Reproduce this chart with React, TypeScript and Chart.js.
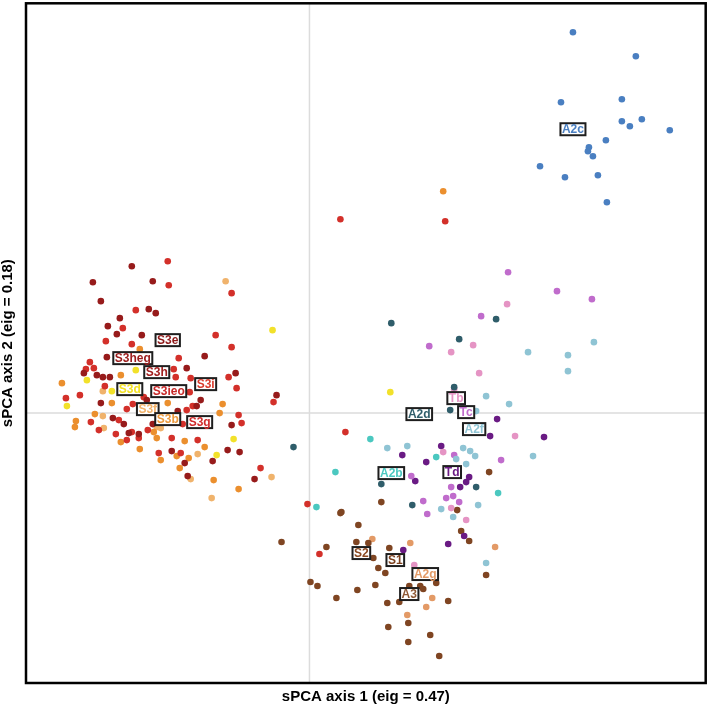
import React, { useEffect, useRef } from "react";
import { Chart, registerables } from "chart.js";

Chart.register(...registerables);

type Pt = [number, number];

// sPCA scores (axis 1, axis 2) per population group
const s3DarkPts: Pt[] = [
  [-1.78, 1.47], [-2.17, 1.31], [-1.57, 1.32], [-2.09, 1.12], [-1.61, 1.04], [-1.54, 1.0],
  [-1.9, 0.95], [-2.02, 0.87], [-1.93, 0.79], [-1.68, 0.78], [-2.03, 0.56], [-1.05, 0.57],
  [-2.26, 0.4], [-1.23, 0.45], [-2.13, 0.38], [-2.07, 0.36], [-2.0, 0.36], [-0.74, 0.4],
  [-1.63, 0.13], [-1.09, 0.13], [-0.33, 0.18], [-2.09, 0.1], [-1.13, 0.07], [-1.32, 0.02],
  [-1.97, -0.05], [-1.86, -0.11], [-1.57, -0.11], [-0.78, -0.12], [-1.81, -0.2], [-1.71, -0.21],
  [-1.38, -0.38], [-0.82, -0.37], [-0.7, -0.39], [-1.25, -0.5], [-0.97, -0.48], [-1.22, -0.63],
  [-0.55, -0.66],
];
const s3RedPts: Pt[] = [
  [-1.42, 1.52], [-1.41, 1.28], [-0.78, 1.2], [-1.74, 1.03], [-1.87, 0.85], [-2.04, 0.72],
  [-1.78, 0.69], [-0.94, 0.78], [-0.78, 0.66], [-1.31, 0.55], [-2.2, 0.51], [-2.24, 0.44],
  [-2.16, 0.45], [-1.36, 0.44], [-1.34, 0.36], [-1.19, 0.35], [-0.81, 0.36], [-2.05, 0.27],
  [-0.73, 0.25], [-1.2, 0.21], [-2.44, 0.15], [-2.3, 0.18], [-1.66, 0.16], [-0.36, 0.11],
  [-1.77, 0.09], [-1.83, 0.04], [-1.17, 0.07], [-1.23, 0.03], [-1.91, -0.07], [-2.19, -0.09],
  [-2.11, -0.17], [-1.27, -0.11], [-0.71, -0.02], [-0.68, -0.1], [-1.94, -0.21], [-1.78, -0.19],
  [-1.71, -0.25], [-1.62, -0.17], [-1.83, -0.27], [-1.38, -0.25], [-1.12, -0.27], [-1.51, -0.4],
  [-1.29, -0.4], [-0.49, -0.55], [-0.02, -0.91], [0.31, 1.94], [1.36, 1.92], [0.36, -0.19],
  [0.1, -1.41],
];
const s3bPts: Pt[] = [
  [-1.7, 0.64], [-1.89, 0.38], [-2.48, 0.3], [-1.42, 0.1], [-1.98, 0.1], [-0.87, 0.09],
  [-0.9, 0.0], [-2.15, -0.01], [-2.34, -0.08], [-2.35, -0.14], [-1.56, -0.19], [-1.53, -0.25],
  [-1.89, -0.29], [-1.25, -0.28], [-1.7, -0.36], [-1.05, -0.34], [-1.33, -0.43], [-1.49, -0.47],
  [-1.21, -0.45], [-1.3, -0.55], [-0.96, -0.67], [-0.71, -0.76], [1.34, 2.22],
];
const s3fPts: Pt[] = [
  [-0.84, 1.32], [-2.07, 0.22], [-2.07, -0.03], [-2.06, -0.15], [-1.49, -0.15], [-1.53, -0.14],
  [-1.12, -0.41], [-1.19, -0.66], [-0.38, -0.64], [-0.98, -0.85],
];
const s3dPts: Pt[] = [
  [-0.37, 0.83], [-1.74, 0.43], [-2.23, 0.33], [-1.98, 0.22], [-2.43, 0.07], [-0.76, -0.26],
  [-0.93, -0.42], [0.81, 0.21],
];
const a2cPts: Pt[] = [
  [2.64, 3.81], [3.27, 3.57], [2.52, 3.11], [3.13, 3.14], [3.13, 2.92], [3.21, 2.87],
  [3.33, 2.94], [3.61, 2.83], [2.97, 2.73], [2.8, 2.66], [2.79, 2.62], [2.84, 2.57],
  [2.31, 2.47], [2.56, 2.36], [2.89, 2.38], [2.98, 2.11],
];
const a2dPts: Pt[] = [
  [1.87, 0.94], [0.82, 0.9], [1.5, 0.74], [1.45, 0.26], [1.41, 0.03], [-0.16, -0.34],
  [0.72, -0.71], [1.67, -0.74], [1.03, -0.92],
];
const a2bPts: Pt[] = [
  [0.61, -0.26], [1.27, -0.44], [0.26, -0.59], [1.89, -0.8], [0.07, -0.94],
];
const a2fPts: Pt[] = [
  [2.19, 0.61], [1.77, 0.17], [2.0, 0.09], [1.67, 0.02], [0.78, -0.35], [0.98, -0.33],
  [1.54, -0.35], [1.61, -0.38], [1.66, -0.43], [1.47, -0.46], [1.57, -0.51], [2.24, -0.43],
  [1.32, -0.96], [1.69, -0.92], [1.44, -1.04], [1.77, -1.5], [2.85, 0.71], [2.59, 0.58],
  [2.59, 0.42],
];
const tbPts: Pt[] = [
  [1.98, 1.09], [1.42, 0.61], [1.64, 0.68], [1.7, 0.4], [1.45, 0.24], [2.06, -0.23],
  [1.34, -0.39], [1.42, -0.95], [1.57, -1.07], [1.05, -1.52],
];
const tcPts: Pt[] = [
  [1.99, 1.41], [2.48, 1.22], [2.83, 1.14], [1.72, 0.97], [1.2, 0.67], [1.45, -0.42],
  [1.92, -0.47], [1.02, -0.63], [1.42, -0.74], [1.37, -0.85], [1.44, -0.83], [1.5, -0.89],
  [1.14, -0.88], [1.18, -1.01],
];
const tdPts: Pt[] = [
  [1.88, -0.06], [1.81, -0.23], [2.35, -0.24], [1.32, -0.33], [0.93, -0.42], [1.17, -0.49],
  [1.06, -0.68], [1.6, -0.64], [1.57, -0.69], [1.51, -0.74], [1.55, -1.23], [1.39, -1.31],
  [0.94, -1.37],
];
const sBrownPts: Pt[] = [
  [1.8, -0.59], [1.48, -0.97], [1.52, -1.18], [1.6, -1.28], [1.77, -1.62], [0.72, -0.89],
  [0.31, -1.0], [0.32, -0.99], [0.49, -1.12], [-0.28, -1.29], [0.17, -1.34], [0.47, -1.29],
  [0.59, -1.3], [0.8, -1.35], [0.64, -1.45], [0.69, -1.55], [0.76, -1.6], [0.01, -1.69],
  [0.08, -1.73], [0.66, -1.72], [0.48, -1.77], [1.0, -1.73], [1.11, -1.73], [1.14, -1.76],
  [1.27, -1.7], [0.27, -1.85], [0.78, -1.9], [0.9, -1.89], [1.39, -1.88], [0.99, -2.1],
  [0.79, -2.14], [1.21, -2.22], [0.99, -2.29], [1.3, -2.43],
];
const a2gPts: Pt[] = [
  [1.86, -1.34], [0.63, -1.26], [1.01, -1.3], [1.23, -1.85], [1.17, -1.94], [0.98, -2.02],
];

// group labels: name, axis 1, axis 2, colour
const labelNames = [
  "S3e", "S3heg", "S3h", "S3d", "S3ieo", "S3i", "S3f", "S3b", "S3g", "A2c",
  "A2d", "Tb", "Tc", "A2f", "A2b", "Td", "S2", "S1", "A2g", "A3",
];
const labelX = [
  -1.42, -1.77, -1.53, -1.8, -1.41, -1.04, -1.62, -1.42, -1.1, 2.64,
  1.1, 1.47, 1.57, 1.65, 0.82, 1.43, 0.52, 0.86, 1.16, 1.0,
];
const labelY = [
  0.73, 0.55, 0.41, 0.24, 0.22, 0.29, 0.04, -0.06, -0.09, 2.84,
  -0.01, 0.15, 0.01, -0.16, -0.6, -0.59, -1.4, -1.47, -1.61, -1.81,
];
const labelColors = [
  "#8f1a1a", "#9c1c1c", "#a11f1f", "#f2e125", "#c82a2a", "#d93b2c", "#f1b26a", "#eb9a3e", "#cf2c2c", "#4a7fc1",
  "#2f5d6a", "#e594c4", "#c06ccc", "#8fc4d4", "#4bc8c0", "#6a1b84", "#8b4a22", "#7d4220", "#e39a66", "#8f5a36",
];

const xTitle = "sPCA axis 1 (eig = 0.47)";
const yTitle = "sPCA axis 2 (eig = 0.18)";

const FONT = '"Liberation Sans", Arial, Helvetica, sans-serif';

const groups: { pts: Pt[]; color: string }[] = [
  { pts: s3DarkPts, color: "#971b1b" },
  { pts: s3RedPts, color: "#d3302a" },
  { pts: s3bPts, color: "#eb8f2e" },
  { pts: s3fPts, color: "#f0b36c" },
  { pts: s3dPts, color: "#f2e12a" },
  { pts: a2cPts, color: "#4a7fc1" },
  { pts: a2dPts, color: "#2f5d6a" },
  { pts: a2bPts, color: "#4bc8c0" },
  { pts: a2fPts, color: "#8fc4d4" },
  { pts: tbPts, color: "#e594c4" },
  { pts: tcPts, color: "#c06ccc" },
  { pts: tdPts, color: "#6a1b84" },
  { pts: sBrownPts, color: "#7f4522" },
  { pts: a2gPts, color: "#e39a66" },
];

const decorPlugin = {
  id: "spcaDecor",
  beforeDatasetsDraw(chart: any) {
    const { ctx, chartArea: a, scales } = chart;
    const x0 = scales.x.getPixelForValue(0);
    const y0 = scales.y.getPixelForValue(0);
    ctx.save();
    ctx.strokeStyle = "#dcdcdc";
    ctx.lineWidth = 1.5;
    ctx.beginPath();
    ctx.moveTo(x0, a.top);
    ctx.lineTo(x0, a.bottom);
    ctx.moveTo(a.left, y0);
    ctx.lineTo(a.right, y0);
    ctx.stroke();
    ctx.restore();
  },
  afterDatasetsDraw(chart: any) {
    const { ctx, chartArea: a, scales } = chart;
    ctx.save();
    // group labels in boxes
    ctx.font = `bold 12px ${FONT}`;
    ctx.textAlign = "center";
    ctx.textBaseline = "middle";
    labelNames.forEach((name, i) => {
      const px = scales.x.getPixelForValue(labelX[i]);
      const py = scales.y.getPixelForValue(labelY[i]);
      const tw = ctx.measureText(name).width;
      const w = tw + 3;
      const h = 12;
      ctx.fillStyle = "#ffffff";
      ctx.fillRect(px - w / 2, py - h / 2, w, h);
      ctx.strokeStyle = "#1e1e1e";
      ctx.lineWidth = 2;
      ctx.strokeRect(px - w / 2, py - h / 2, w, h);
      ctx.fillStyle = labelColors[i];
      ctx.fillText(name, px, py + 0.5);
    });

    // frame
    ctx.strokeStyle = "#000000";
    ctx.lineWidth = 2.5;
    ctx.strokeRect(a.left, a.top, a.right - a.left, a.bottom - a.top);

    // axis titles
    ctx.fillStyle = "#000000";
    ctx.font = `bold 15px ${FONT}`;
    ctx.textAlign = "center";
    ctx.textBaseline = "middle";
    ctx.fillText(xTitle, (a.left + a.right) / 2, a.bottom + 14);
    ctx.translate(8, (a.top + a.bottom) / 2);
    ctx.rotate(-Math.PI / 2);
    ctx.fillText(yTitle, 0, 0);
    ctx.restore();
  },
};

export default function App() {
  const canvasRef = useRef<HTMLCanvasElement | null>(null);

  useEffect(() => {
    if (!canvasRef.current) return;
    const chart = new Chart(canvasRef.current, {
      type: "scatter",
      data: {
        datasets: groups.map((g) => ({
          data: g.pts.map(([x, y]) => ({ x, y })),
          backgroundColor: g.color,
          borderWidth: 0,
          pointRadius: 3.3,
          pointHoverRadius: 3.3,
        })),
      },
      options: {
        responsive: false,
        animation: false,
        layout: { padding: { left: 26, top: 3, right: 2, bottom: 30 } },
        plugins: { legend: { display: false }, tooltip: { enabled: false } },
        scales: {
          x: { type: "linear", display: false, min: -2.84, max: 3.97 },
          y: { type: "linear", display: false, min: -2.7, max: 4.1 },
        },
      },
      plugins: [decorPlugin],
    });
    return () => chart.destroy();
  }, []);

  return (
    <div style={{ position: "fixed", left: 0, top: 0, width: 709, height: 713, background: "#fff" }}>
      <canvas ref={canvasRef} width={709} height={713} />
    </div>
  );
}
